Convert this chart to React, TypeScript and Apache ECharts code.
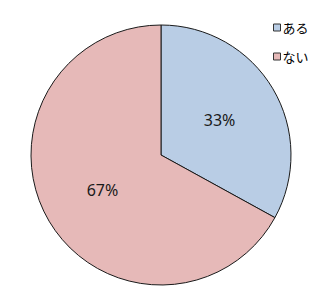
import React, { useEffect, useRef } from "react";
import * as echarts from "echarts";

const categories = ["ある", "ない"];
const values = [33, 67];
const colors = ["#B9CDE5", "#E6B9B8"];

export default function App() {
  const ref = useRef<HTMLDivElement>(null);
  useEffect(() => {
    if (!ref.current) return;
    const chart = echarts.init(ref.current, null, { renderer: "svg" });
    chart.setOption({
      animation: false,
      backgroundColor: "#ffffff",
      legend: {
        orient: "vertical",
        left: 268,
        top: 16,
        itemWidth: 7,
        itemHeight: 7,
        itemGap: 16,
        icon: "rect",
        data: categories,
        textStyle: { fontSize: 13, color: "#000", fontFamily: "Noto Sans CJK JP", padding: [0, 0, 0, -3] },
        itemStyle: { borderColor: "#333", borderWidth: 1 },
      },
      series: [
        {
          type: "pie",
          center: [161, 155],
          radius: [0, 130],
          startAngle: 90,
          clockwise: true,
          data: categories.map((c, i) => ({ name: c, value: values[i], itemStyle: { color: colors[i] } })),
          itemStyle: { borderColor: "#1a1a1a", borderWidth: 1 },
          label: {
            position: "inner",
            formatter: "{c}%",
            fontSize: 16,
            color: "#1a1a1a",
            fontFamily: "Noto Sans",
          },
          labelLine: { show: false },
          emphasis: { disabled: true },
        },
      ],
    });
    return () => chart.dispose();
  }, []);
  return <div ref={ref} style={{ position: "fixed", left: 0, top: 0, width: 326, height: 308 }} />;
}
